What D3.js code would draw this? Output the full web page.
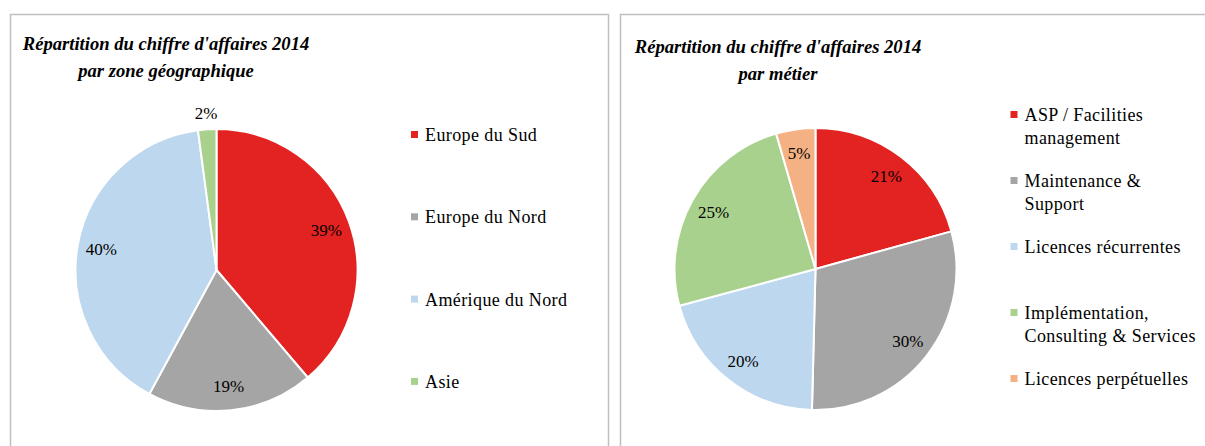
<!DOCTYPE html>
<html><head><meta charset="utf-8">
<script src="https://cdn.jsdelivr.net/npm/d3@7"></script>
<style>
html,body{margin:0;padding:0;background:#fff;}
svg{display:block;}
text{font-family:"Liberation Serif","DejaVu Serif",serif;fill:#000;}
</style></head>
<body>
<svg id="chart" width="1205" height="446"></svg>
<script>
// ---- Data ----
const geoTitle = ["Répartition du chiffre d'affaires 2014", "par zone géographique"];
const geoCategories = ["Europe du Sud", "Europe du Nord", "Amérique du Nord", "Asie"];
const geoValues = [38.8, 19.1, 40.0, 2.1];

const metTitle = ["Répartition du chiffre d'affaires 2014", "par métier"];
const metCategories = [["ASP / Facilities", "management"], ["Maintenance &", "Support"], ["Licences récurrentes"], ["Implémentation,", "Consulting & Services"], ["Licences perpétuelles"]];
const metValues = [20.7, 29.7, 20.4, 24.7, 4.5];

const geoColors = ["#E32322", "#A5A5A5", "#BDD7EE", "#A9D18E"];
const metColors = ["#E32322", "#A5A5A5", "#BDD7EE", "#A9D18E", "#F4B183"];

const svg = d3.select("#chart");

// panels
svg.append("rect").attr("x", 10.5).attr("y", 14.5).attr("width", 598).attr("height", 450)
  .attr("fill", "none").attr("stroke", "#BFBFBF").attr("stroke-width", 1.5);
svg.append("rect").attr("x", 620.5).attr("y", 14.5).attr("width", 620).attr("height", 450)
  .attr("fill", "none").attr("stroke", "#BFBFBF").attr("stroke-width", 1.5);

function drawPie(opts) {
  const g = svg.append("g");
  const total = d3.sum(opts.values);
  const pie = d3.pie().sort(null).value(d => d)(opts.values);
  const arc = d3.arc().innerRadius(0).outerRadius(opts.r);
  const pg = g.append("g").attr("transform", `translate(${opts.cx},${opts.cy})`);
  pg.selectAll("path").data(pie).join("path")
    .attr("d", arc)
    .attr("fill", (d, i) => opts.colors[i])
    .attr("stroke", "#fff").attr("stroke-width", 2).attr("stroke-linejoin", "round");
  pg.selectAll("text.lbl").data(pie).join("text").attr("class", "lbl")
    .each(function(d) {
      const pct = d.value / total * 100;
      const rr = pct < 3 ? opts.r + 16 : opts.r * 0.83;
      const a = (d.startAngle + d.endAngle) / 2;
      d3.select(this)
        .attr("x", Math.sin(a) * rr).attr("y", -Math.cos(a) * rr)
        .attr("dy", "0.35em").attr("text-anchor", "middle")
        .attr("font-size", 17).text(Math.round(pct) + "%");
    });
  // title
  opts.title.forEach((t, i) => {
    g.append("text").attr("x", opts.tx).attr("y", opts.ty + i * 27)
      .attr("text-anchor", "middle").attr("font-size", 18.6)
      .attr("font-weight", "bold").attr("font-style", "italic").text(t);
  });
  // legend
  let y = opts.ly;
  opts.cats.forEach((c, i) => {
    const lines = Array.isArray(c) ? c : [c];
    g.append("rect").attr("x", opts.lx).attr("y", y - 10).attr("width", 7).attr("height", 7)
      .attr("fill", opts.colors[i]);
    lines.forEach((ln, j) => {
      g.append("text").attr("x", opts.lx + 14).attr("y", y + j * opts.lineH)
        .attr("font-size", 18).attr("letter-spacing", 0.4).text(ln);
    });
    y += opts.step;
  });
}

drawPie({values: geoValues, colors: geoColors, cats: geoCategories, title: geoTitle,
  cx: 216.5, cy: 270, r: 141, tx: 166, ty: 50, lx: 411, ly: 141, step: 82.3, lineH: 22.5});
drawPie({values: metValues, colors: metColors, cats: metCategories, title: metTitle,
  cx: 815.5, cy: 269, r: 141, tx: 778, ty: 53, lx: 1010.5, ly: 121, step: 66, lineH: 22.5});
</script>
</body></html>
